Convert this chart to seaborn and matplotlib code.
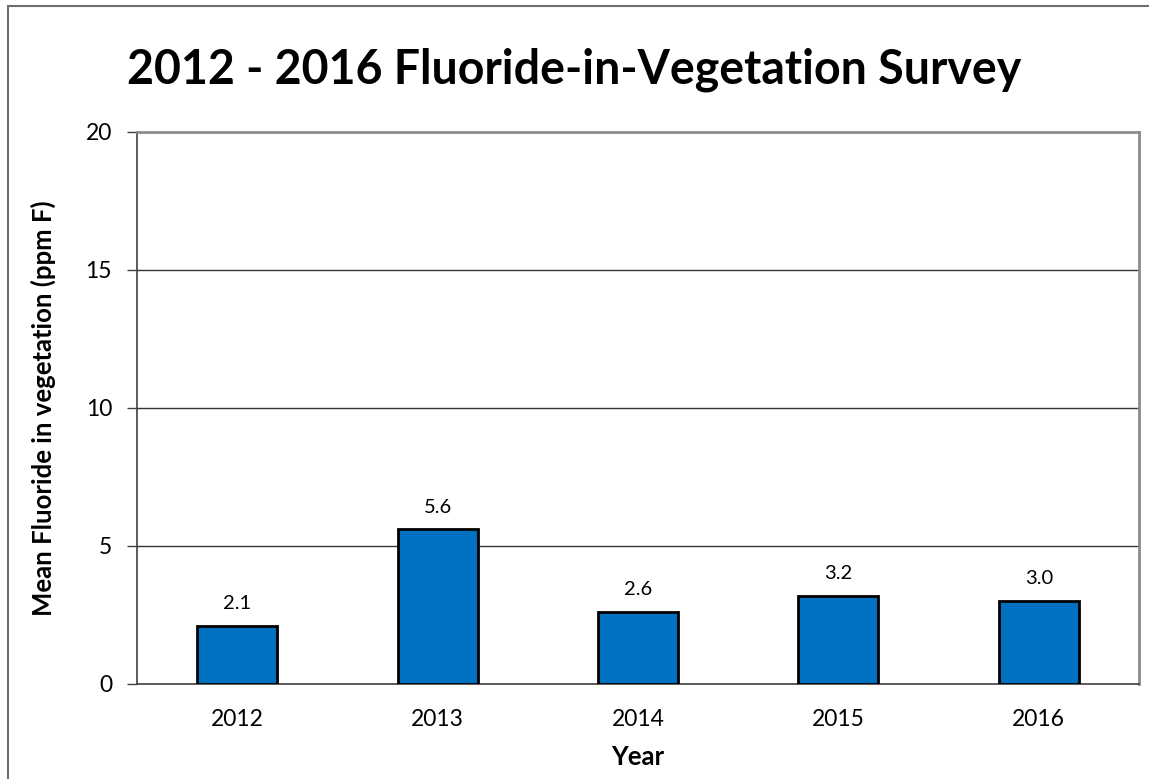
import matplotlib
matplotlib.use("Agg")
import matplotlib.pyplot as plt
import seaborn as sns
import pandas as pd
from matplotlib.patches import Rectangle

years = ["2012", "2013", "2014", "2015", "2016"]
fluoride = [2.1, 5.6, 2.6, 3.2, 3.0]
y_ticks = [0, 5, 10, 15, 20]

sns.set_theme(style="white")
plt.rcParams["font.family"] = ["Lato", "DejaVu Sans"]
plt.rcParams["text.color"] = "black"
plt.rcParams["axes.labelcolor"] = "black"
plt.rcParams["xtick.color"] = "black"
plt.rcParams["ytick.color"] = "black"

df = pd.DataFrame({"Year": years, "Fluoride": fluoride})

fig = plt.figure(figsize=(11.49, 7.79), dpi=100)
ax = fig.add_axes([137 / 1149, 1 - 684 / 779, 1002 / 1149, 552 / 779])

sns.barplot(data=df, x="Year", y="Fluoride", color="#0070C0", saturation=1,
            width=0.4, edgecolor="black", linewidth=2, ax=ax, zorder=3)

ax.set_xlim(-0.5, len(years) - 0.5)
ax.set_ylim(0, 20)
ax.set_yticks(y_ticks)
ax.set_yticklabels([str(t) for t in y_ticks], fontsize=16.5)
ax.set_xticks(range(len(years)), years)
ax.tick_params(axis="x", which="major", length=0, labelsize=16.5, pad=18,
               labelcolor="black")
ax.set_xticks([i - 0.5 for i in range(len(years) + 1)], minor=True)
ax.tick_params(axis="x", which="minor", length=7, width=1, color="#404040", direction="out")
ax.tick_params(axis="y", length=7, width=1, color="#404040", direction="out", pad=11,
               left=True, labelcolor="black")

for y in y_ticks[1:-1]:
    ax.axhline(y, color="#333333", linewidth=1, zorder=1)

for s in ["top", "right"]:
    ax.spines[s].set_color("#8c8c8c")
    ax.spines[s].set_linewidth(2)
ax.spines["left"].set_color("#404040")
ax.spines["left"].set_linewidth(1.2)
ax.spines["bottom"].set_color("#404040")
ax.spines["bottom"].set_linewidth(1.2)

for i, v in enumerate(fluoride):
    ax.annotate(f"{v:.1f}", (i, v), xytext=(0, 10), textcoords="offset points",
                ha="center", va="bottom", fontsize=14.5, color="black")

ax.set_xlabel("Year", fontsize=18.5, fontweight="bold", labelpad=11, color="black")
ax.set_ylabel("Mean Fluoride in vegetation (ppm F)", fontsize=18.5, fontweight="bold",
              labelpad=21, color="black")

fig.text(0.5, 1 - 70 / 779, "2012 - 2016 Fluoride-in-Vegetation Survey",
         ha="center", va="center", fontsize=33.5, fontweight="bold", color="black")

fig.patches.append(Rectangle((8 / 1149, -0.05), 1.1, 1 - 6 / 779 + 0.05,
                             transform=fig.transFigure, fill=False,
                             edgecolor="#6e6e6e", linewidth=1.5))

fig.savefig("out.png", dpi=100)
